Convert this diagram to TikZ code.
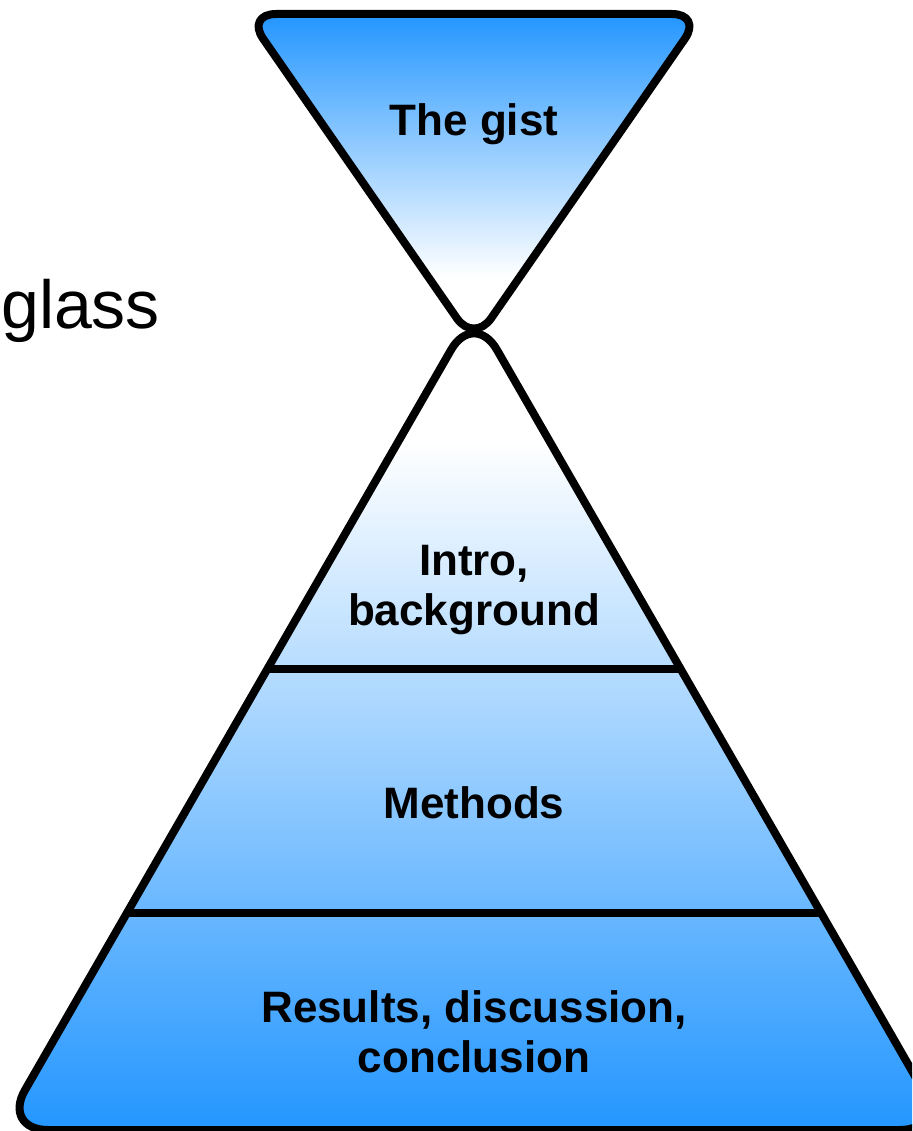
\documentclass[tikz,border=0pt]{standalone}
\usepackage{fontspec}
\setmainfont{Liberation Sans}
\definecolor{hgblue}{RGB}{35,150,255}
\pgfdeclareverticalshading{gistshade}{100bp}{color(0bp)=(white); color(35bp)=(white); color(75bp)=(hgblue); color(100bp)=(hgblue)}
\pgfdeclareverticalshading{baseshade}{100bp}{color(0bp)=(hgblue); color(25bp)=(hgblue); color(67bp)=(white); color(100bp)=(white)}
\begin{document}
\begin{tikzpicture}[x=1pt,y=-1pt,
  outline/.style={line width=8pt, line join=round},
  divider/.style={line width=8pt},
  lbl/.style={font=\bfseries\fontsize{44}{50}\selectfont, align=center, text=black, inner sep=0pt},
  biglbl/.style={font=\fontsize{68}{80}\selectfont, text=black, inner sep=0pt}]
\useasboundingbox (0,0) rectangle (912,1131);
\clip (0,0) rectangle (912,1131);
% top inverted triangle
\shadedraw[outline, rounded corners=30pt, shading=gistshade] (246,14) -- (702,14) -- (474,343) -- cycle;
% bottom triangle
\shade[rounded corners=46pt, shading=baseshade] (474,310) -- (946,1130) -- (2,1130) -- cycle;
\coordinate (l1a) at (267.4,669);
\coordinate (l1b) at (680.6,669);
\coordinate (l2a) at (127,913);
\coordinate (l2b) at (821,913);
\draw[divider] (l1a) -- (l1b);
\draw[divider] (l2a) -- (l2b);
\draw[outline, rounded corners=46pt] (474,310) -- (946,1130) -- (2,1130) -- cycle;
% labels
\node[lbl] (gist) at (474,124) {The gist};
\node[lbl] (intro) at (474,590) {Intro,\\background};
\node[lbl] (methods) at (474,803) {Methods};
\node[lbl] (results) at (474,1032) {Results, discussion,\\conclusion};
\node[biglbl, anchor=base west] (glass) at (1,328) {glass};
\end{tikzpicture}
\end{document}
